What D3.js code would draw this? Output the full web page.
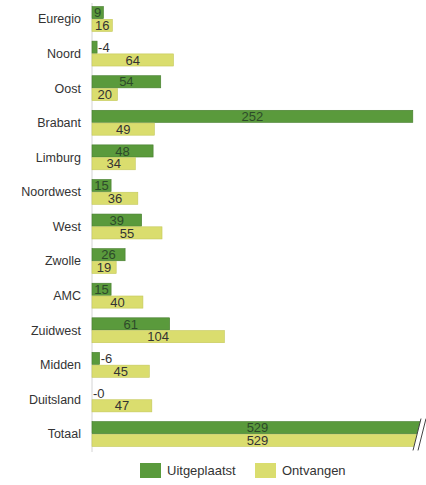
<!DOCTYPE html>
<html>
<head>
<meta charset="utf-8">
<script src="https://cdn.jsdelivr.net/npm/d3@7"></script>
<style>
  body { margin: 0; background: #fff; }
  text { font-family: "Liberation Sans", Arial, sans-serif; }
</style>
</head>
<body>
<div id="chart"></div>
<script>
// data
var categories = ["Euregio", "Noord", "Oost", "Brabant", "Limburg", "Noordwest", "West",
                  "Zwolle", "AMC", "Zuidwest", "Midden", "Duitsland", "Totaal"];
var uitgeplaatst = [9, -4, 54, 252, 48, 15, 39, 26, 15, 61, -6, -0, 529];
var ontvangen = [16, 64, 20, 49, 34, 36, 55, 19, 40, 104, 45, 47, 529];
var series = ["Uitgeplaatst", "Ontvangen"];

var width = 426, height = 485;
var colors = {Uitgeplaatst: "#5a9a3c", Ontvangen: "#dadd6e"};
var strokes = {Uitgeplaatst: "#457d2c", Ontvangen: "#c4c85a"};

var svg = d3.select("#chart").append("svg")
    .attr("width", width)
    .attr("height", height);

// x scale: the Totaal bar runs off the edge and gets a break mark
var x = d3.scaleLinear()
    .domain([0, 260])
    .range([92, 423])
    .clamp(true);

var y = d3.scaleBand()
    .domain(categories)
    .range([1.7, 451.3])
    .paddingInner(0.28)
    .paddingOuter(0.14);

var ySub = d3.scaleBand()
    .domain(series)
    .range([0, y.bandwidth()])
    .paddingInner(0.05);

var rows = categories.map(function(c, i) {
    return {cat: c, values: [
        {key: "Uitgeplaatst", v: uitgeplaatst[i]},
        {key: "Ontvangen", v: ontvangen[i]}
    ]};
});

// baseline
svg.append("line")
    .attr("x1", x(0)).attr("x2", x(0))
    .attr("y1", 3).attr("y2", 452)
    .attr("stroke", "#d4d4d4")
    .attr("stroke-width", 1);

// category labels
svg.append("g").selectAll("text")
    .data(categories)
    .enter().append("text")
    .attr("x", 81)
    .attr("y", function(d) { return y(d) + y.bandwidth() / 2; })
    .attr("dy", "0.35em")
    .attr("text-anchor", "end")
    .style("font-size", "12.5px")
    .style("fill", "#333")
    .text(function(d) { return d; });

var groups = svg.append("g").selectAll("g")
    .data(rows)
    .enter().append("g")
    .attr("transform", function(d) { return "translate(0," + y(d.cat) + ")"; });

groups.selectAll("rect")
    .data(function(d) { return d.values; })
    .enter().append("rect")
    .attr("x", x(0))
    .attr("y", function(d) { return ySub(d.key); })
    .attr("width", function(d) { return x(Math.abs(d.v)) - x(0); })
    .attr("height", ySub.bandwidth())
    .attr("fill", function(d) { return colors[d.key]; })
    .attr("stroke", function(d) { return Math.abs(d.v) > 0 ? strokes[d.key] : "none"; })
    .attr("stroke-width", 0.6);

function labelText(v) {
    return Object.is(v, -0) ? "-0" : String(v);
}

groups.selectAll("text")
    .data(function(d) { return d.values; })
    .enter().append("text")
    .attr("y", function(d) { return ySub(d.key) + ySub.bandwidth() / 2; })
    .attr("dy", "0.36em")
    .style("font-size", "13px")
    .text(function(d) { return labelText(d.v); })
    .each(function(d) {
        var t = d3.select(this);
        var tw = this.getComputedTextLength();
        var x1 = x(Math.abs(d.v));
        var bw = x1 - x(0);
        if (bw > tw + 2) {
            t.attr("x", x(0) + bw / 2).attr("text-anchor", "middle")
             .style("fill", d.key == "Uitgeplaatst" ? "#2d4a2a" : "#333");
        } else {
            t.attr("x", x1 + 1).attr("text-anchor", "start").style("fill", "#333");
        }
    });

// break mark on the Totaal bars
var tTop = y("Totaal") - 3, tBot = y("Totaal") + y.bandwidth() + 4;
svg.append("path")
    .attr("d", "M413," + tBot + "L421," + tTop + "L430," + tTop + "L430," + tBot + "Z")
    .attr("fill", "#fff");
svg.append("g").selectAll("line")
    .data([0, 5])
    .enter().append("line")
    .attr("x1", function(d) { return 413 + d; })
    .attr("y1", tBot)
    .attr("x2", function(d) { return 421 + d; })
    .attr("y2", tTop)
    .attr("stroke", "#444")
    .attr("stroke-width", 1);

// legend
var legendX = [140, 255];
var legend = svg.append("g").selectAll("g")
    .data(series)
    .enter().append("g")
    .attr("transform", function(d, i) { return "translate(" + legendX[i] + ",463)"; });

legend.append("rect")
    .attr("width", 21)
    .attr("height", 15)
    .attr("fill", function(d) { return colors[d]; });

legend.append("text")
    .attr("x", 27)
    .attr("y", 7.5)
    .attr("dy", "0.35em")
    .style("font-size", "13px")
    .style("fill", "#333")
    .text(function(d) { return d; });
</script>
</body>
</html>
